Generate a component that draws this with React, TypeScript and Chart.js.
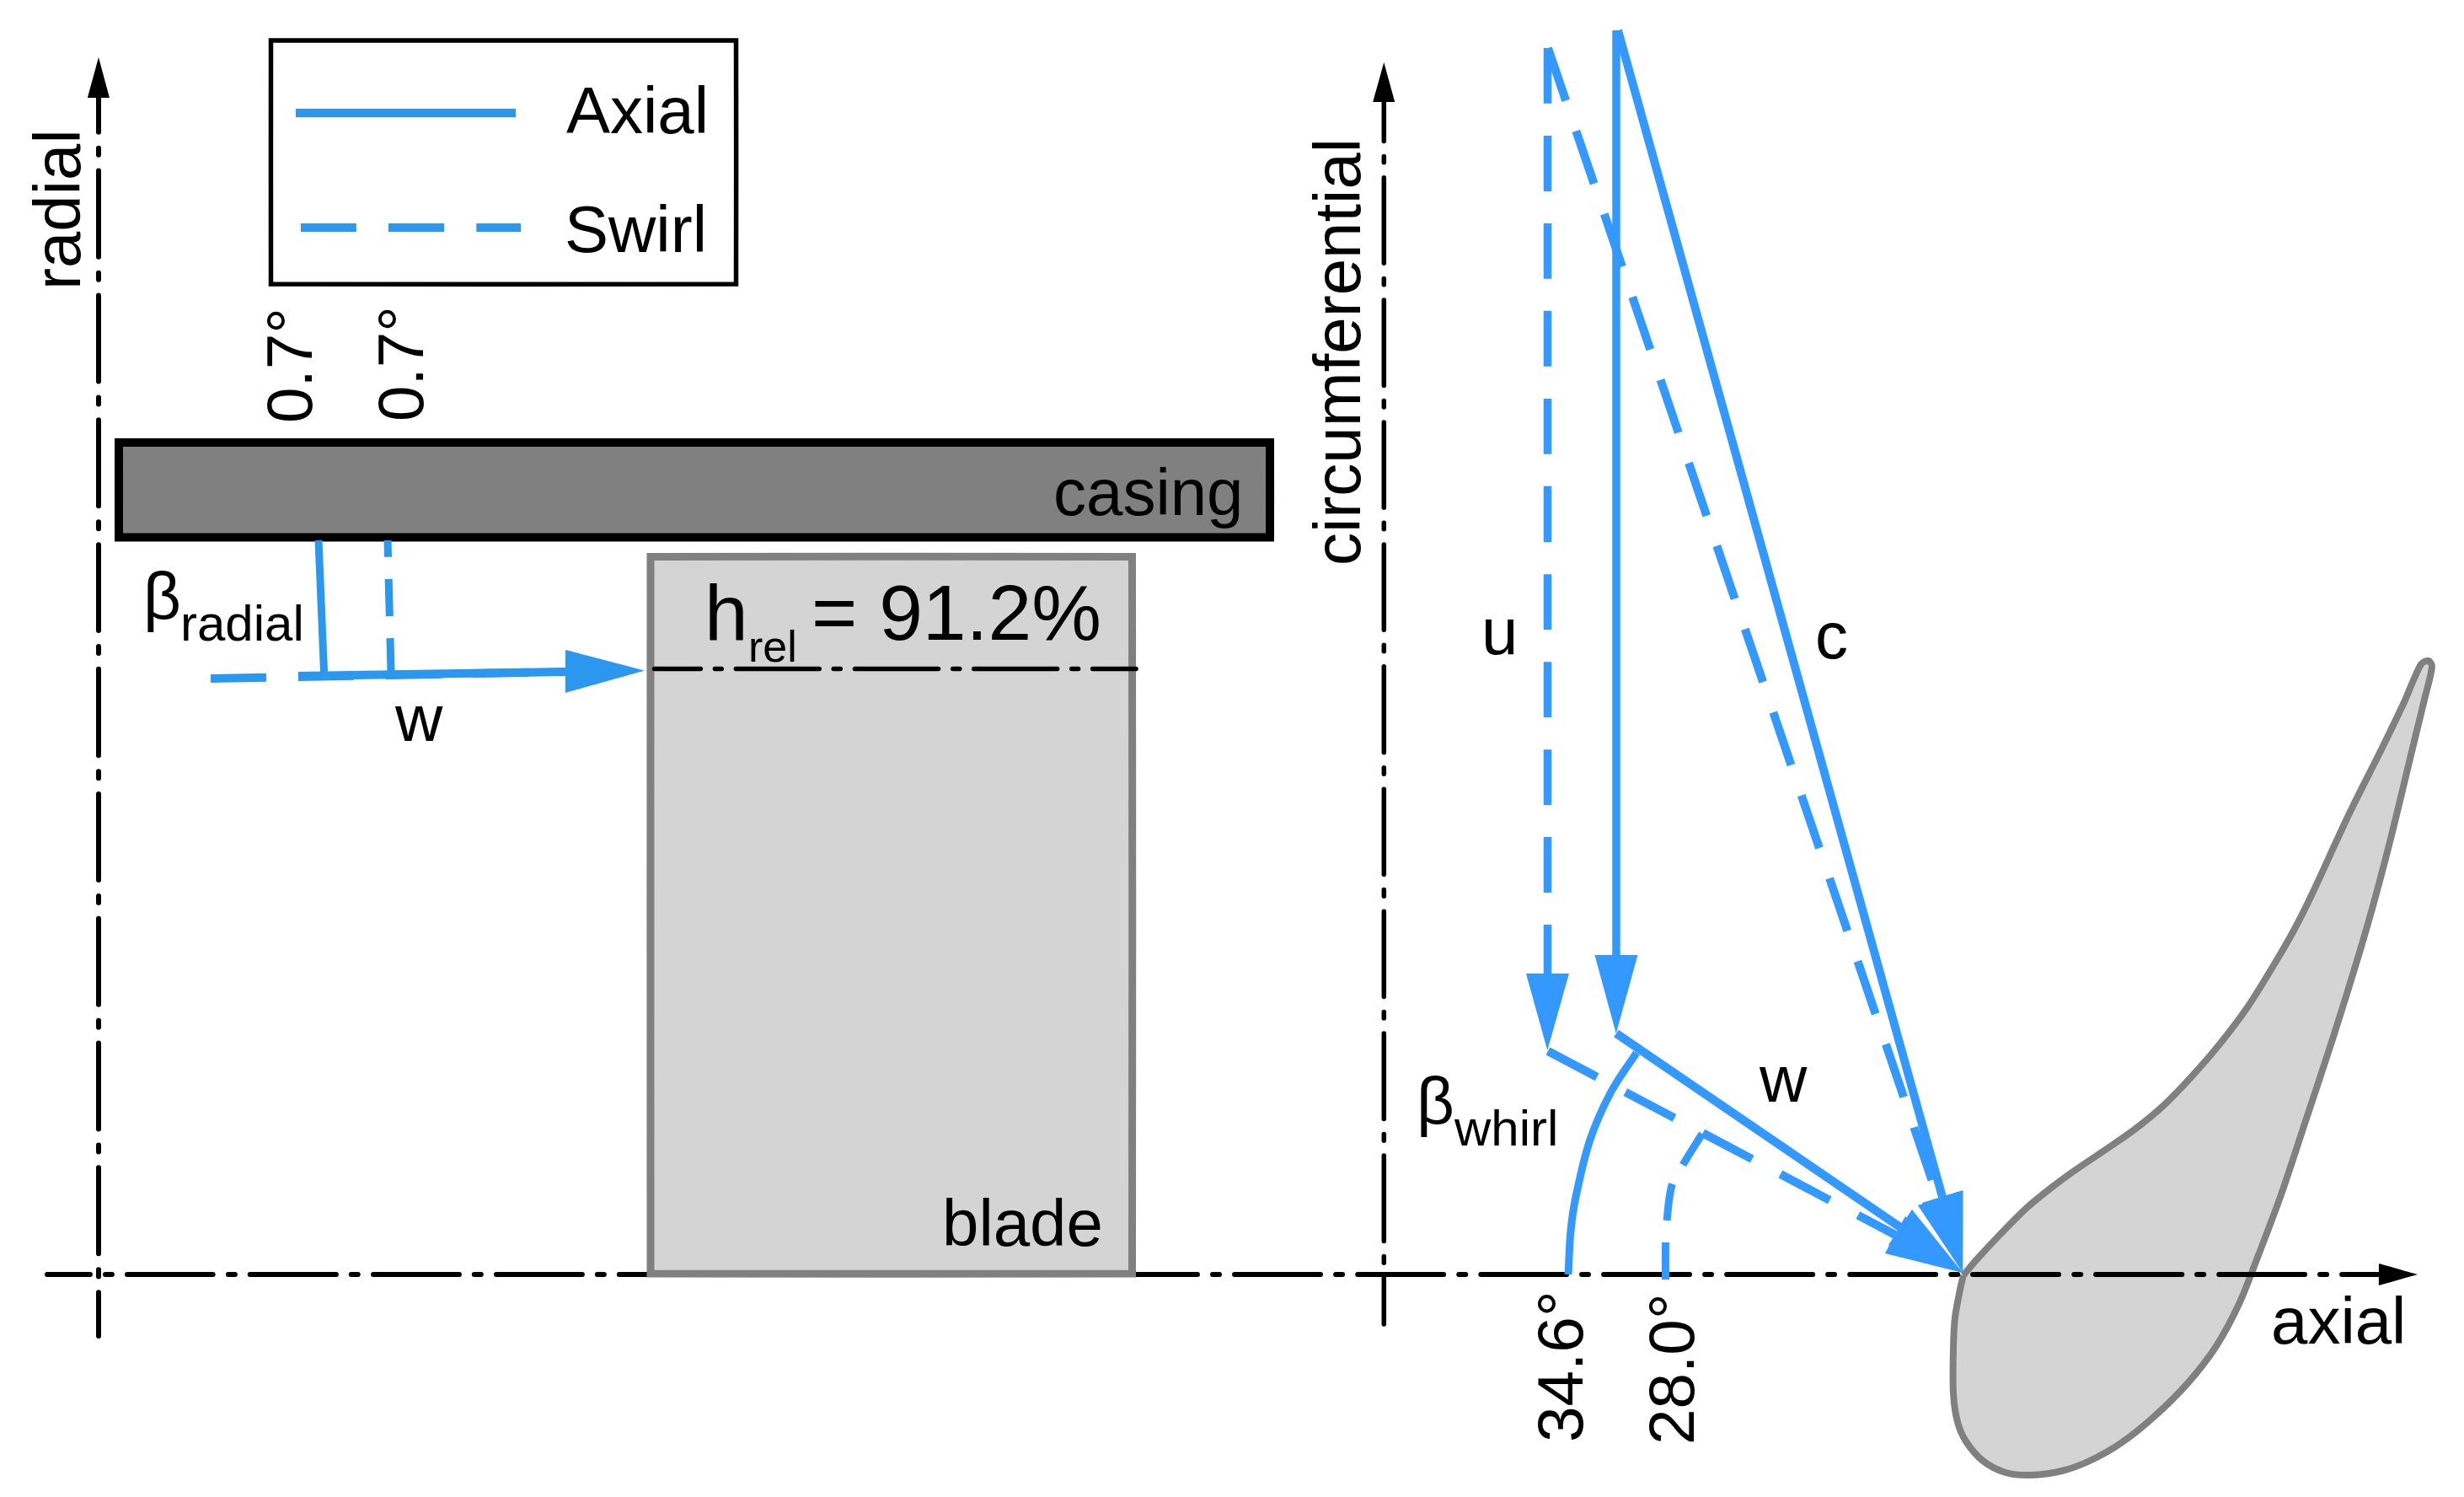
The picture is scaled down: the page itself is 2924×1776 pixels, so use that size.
import { useEffect, useRef } from "react";
import { Chart, registerables } from "chart.js";

Chart.register(...registerables);

const WIDTH = 2924;
const HEIGHT = 1776;

type Pt = [number, number];

// values are in picture units, x to the right and y downwards
const radialAxis: Pt[] = [[117, 116], [117, 1585]];
const radialHead: Pt[] = [[117, 68], [130, 116], [104, 116], [117, 68]];
const circAxis: Pt[] = [[1642.3, 121], [1642.3, 1571]];
const circHead: Pt[] = [[1642.3, 74], [1655.3, 121], [1629.3, 121], [1642.3, 74]];
const axialAxis: Pt[] = [[56, 1512], [2823, 1512]];
const axialHead: Pt[] = [[2869, 1512], [2823, 1499], [2823, 1525], [2869, 1512]];
const spanLine: Pt[] = [[776.5, 793.5], [1348, 793.5]];

const legendBox: Pt[] = [[321.5, 48], [873.5, 48], [873.5, 337], [321.5, 337], [321.5, 48]];
const legendAxial: Pt[] = [[351, 134], [612, 134]];
const legendSwirl: Pt[] = [[357, 270], [618, 270]];

const casing: Pt[] = [[141, 525], [1507, 525], [1507, 637.5], [141, 637.5], [141, 525]];
const blade: Pt[] = [[772, 660.5], [1343.5, 660.5], [1343.5, 1511], [772, 1511], [772, 660.5]];

const radialAngleAxial: Pt[] = [[378, 641], [384.5, 797]];
const radialAngleSwirl: Pt[] = [[460, 641], [464, 797]];
const inflowAxial: Pt[] = [[354, 802], [671, 797]];
const inflowSwirl: Pt[] = [[250, 805], [671, 797]];
const inflowHead: Pt[] = [[765, 795.5], [671, 771], [671, 822], [765, 795.5]];

const uAxial: Pt[] = [[1918, 36], [1918, 1133]];
const uAxialHead: Pt[] = [[1918, 1226], [1943.5, 1133], [1892.5, 1133], [1918, 1226]];
const uSwirl: Pt[] = [[1836.5, 57], [1836.5, 1155]];
const uSwirlHead: Pt[] = [[1836.5, 1246], [1862, 1155], [1811, 1155], [1836.5, 1246]];
const cAxial: Pt[] = [[1920, 36], [2305, 1420]];
const cAxialHead: Pt[] = [[2329.5, 1510], [2329.5, 1412], [2281, 1427], [2329.5, 1510]];
const cSwirl: Pt[] = [[1837, 57], [2300, 1422]];
const cSwirlHead: Pt[] = [[2329.5, 1510], [2324, 1414], [2276, 1430], [2329.5, 1510]];
const wAxial: Pt[] = [[1918, 1226], [2255, 1456]];
const wAxialHead: Pt[] = [[2329.5, 1510], [2269, 1435], [2241, 1477], [2329.5, 1510]];
const wSwirl: Pt[] = [[1837, 1247], [2249, 1465]];
const wSwirlHead: Pt[] = [[2329.5, 1510], [2261, 1443], [2237, 1487], [2329.5, 1510]];

const whirlArcAxial: Pt[] = [[1861, 1512], [1864, 1460], [1870, 1420], [1887, 1352], [1912, 1295], [1942, 1249]];
const whirlArcSwirl: Pt[] = [[1976.5, 1518], [1976.5, 1475], [1978, 1449], [1984, 1406], [1997, 1382], [2020, 1345]];

const airfoil: Pt[] = [
  [2330, 1513], [2345, 1495], [2373, 1465], [2405, 1433], [2433, 1410], [2460, 1390], [2500, 1363],
  [2533, 1340], [2567, 1312], [2600, 1278], [2633, 1240], [2667, 1195], [2700, 1142], [2723, 1102],
  [2744, 1060], [2787, 967], [2827, 887], [2853, 833], [2873, 788], [2882, 784], [2886, 791],
  [2877, 830], [2860, 900], [2839, 987], [2820, 1060], [2800, 1130], [2768, 1233], [2735, 1333],
  [2706, 1420], [2677, 1497], [2657, 1547], [2630, 1597], [2597, 1640], [2557, 1680],
  [2517, 1712], [2480, 1733], [2447, 1745], [2410, 1750], [2380, 1747], [2353, 1733], [2333, 1710],
  [2323, 1687], [2318, 1653], [2318, 1600], [2320, 1563], [2327, 1525], [2330, 1513],
];

const BLUE_LEFT = "#2b97ee";
const BLUE_RIGHT = "#3399ff";
const GREY = "#808080";
const LIGHT_GREY = "#d4d4d4";
const SANS = '"Liberation Sans", Arial, sans-serif';

const toPoints = (pts: Pt[]) => pts.map(([x, y]) => ({ x, y }));

function stroke(pts: Pt[], color: string, width: number, extra: object = {}) {
  return {
    data: toPoints(pts),
    showLine: true,
    fill: false,
    borderColor: color,
    borderWidth: width,
    tension: 0.001,
    pointRadius: 0,
    ...extra,
  };
}

function solidShape(pts: Pt[], color: string) {
  return {
    data: toPoints(pts),
    showLine: true,
    fill: "shape",
    backgroundColor: color,
    borderWidth: 0,
    tension: 0.001,
    pointRadius: 0,
  };
}

const dashDot = (dash: number[], offset: number) => ({
  borderDash: dash,
  borderDashOffset: offset,
  borderCapStyle: "round",
});

const longDash = { borderDash: [66, 38] };

// first entry is painted first
const layers = [
  {
    ...solidShape(airfoil, LIGHT_GREY),
    borderColor: GREY,
    borderWidth: 8,
    borderJoinStyle: "round",
    tension: 0.3,
  },
  stroke(radialAxis, "#000", 6, dashDot([102, 19, 8, 18.8], 61)),
  solidShape(radialHead, "#000"),
  stroke(circAxis, "#000", 5.5, dashDot([101.5, 18, 7.5, 18], 55)),
  solidShape(circHead, "#000"),
  stroke(axialAxis, "#000", 6, dashDot([102, 18, 8, 18], 51)),
  solidShape(axialHead, "#000"),

  { ...solidShape(casing, GREY), borderColor: "#000", borderWidth: 10, borderCapStyle: "square" },
  { ...solidShape(blade, LIGHT_GREY), borderColor: GREY, borderWidth: 9, borderCapStyle: "square" },
  stroke(spanLine, "#000", 5.5, dashDot([99, 17, 8, 17], 44)),

  stroke(legendBox, "#000", 5.5, { borderCapStyle: "square" }),
  stroke(legendAxial, BLUE_LEFT, 10),
  stroke(legendSwirl, BLUE_LEFT, 10, longDash),

  stroke(radialAngleAxial, BLUE_LEFT, 9),
  stroke(radialAngleSwirl, BLUE_LEFT, 9, { borderDash: [44, 26], borderDashOffset: 24 }),
  stroke(inflowSwirl, BLUE_LEFT, 10, longDash),
  stroke(inflowAxial, BLUE_LEFT, 10),
  solidShape(inflowHead, BLUE_LEFT),

  stroke(uSwirl, BLUE_RIGHT, 9.5, longDash),
  solidShape(uSwirlHead, BLUE_RIGHT),
  stroke(uAxial, BLUE_RIGHT, 9.5),
  solidShape(uAxialHead, BLUE_RIGHT),
  stroke(cSwirl, BLUE_RIGHT, 10, longDash),
  stroke(cAxial, BLUE_RIGHT, 10),
  solidShape(cSwirlHead, BLUE_RIGHT),
  solidShape(cAxialHead, BLUE_RIGHT),
  stroke(wSwirl, BLUE_RIGHT, 10, longDash),
  stroke(wAxial, BLUE_RIGHT, 10),
  solidShape(wSwirlHead, BLUE_RIGHT),
  solidShape(wAxialHead, BLUE_RIGHT),
  stroke(whirlArcAxial, BLUE_RIGHT, 9, { tension: 0.35 }),
  stroke(whirlArcSwirl, BLUE_RIGHT, 9, { tension: 0.35, borderDash: [44, 26] }),
];

// text, x, y (baseline start), font size, rotated
const textMarks: [string, number, number, number, boolean][] = [
  ["Axial", 672, 157.5, 78, false],
  ["Swirl", 670, 299, 78, false],
  ["radial", 95, 344, 78, true],
  ["circumferential", 1614, 671, 78, true],
  ["0.7°", 370, 502, 76.5, true],
  ["0.7°", 502, 500, 76.5, true],
  ["casing", 1250, 611, 78, false],
  ["blade", 1118, 1478, 78, false],
  ["h", 836, 759, 93, false],
  ["rel", 888, 785, 52, false],
  ["= 91.2%", 963, 759, 93, false],
  ["β", 170, 733.5, 78, false],
  ["radial", 214, 760, 60, false],
  ["w", 469, 879, 78, false],
  ["u", 1758, 775.5, 78, false],
  ["c", 2154, 780.5, 78, false],
  ["w", 2088, 1307, 78, false],
  ["β", 1681, 1333, 78, false],
  ["whirl", 1726, 1358.5, 60, false],
  ["34.6°", 1878, 1711, 76.5, true],
  ["28.0°", 2010, 1714, 76.5, true],
  ["axial", 2695, 1594, 78, false],
];

const textPlugin = {
  id: "diagramText",
  afterDatasetsDraw(chart: Chart) {
    const { ctx, scales } = chart;
    ctx.save();
    ctx.fillStyle = "#000";
    ctx.textAlign = "left";
    ctx.textBaseline = "alphabetic";
    for (const [text, x, y, size, rotated] of textMarks) {
      ctx.save();
      ctx.translate(scales.x.getPixelForValue(x), scales.y.getPixelForValue(y));
      if (rotated) ctx.rotate(-Math.PI / 2);
      ctx.font = `${size}px ${SANS}`;
      ctx.fillText(text, 0, 0);
      ctx.restore();
    }
    ctx.restore();
  },
};

export default function App() {
  const chartRef = useRef<HTMLCanvasElement>(null);

  useEffect(() => {
    if (!chartRef.current) return;

    const chart = new Chart(chartRef.current, {
      type: "scatter",
      // chart.js paints the first dataset on top, so hand them over back to front
      data: { datasets: [...layers].reverse() as any },
      options: {
        animation: false,
        responsive: false,
        devicePixelRatio: 1,
        layout: { padding: 0 },
        plugins: { legend: { display: false }, tooltip: { enabled: false } },
        scales: {
          x: { type: "linear", display: false, min: 0, max: WIDTH },
          y: { type: "linear", display: false, min: 0, max: HEIGHT, reverse: true },
        },
      },
      plugins: [textPlugin],
    });

    return () => chart.destroy();
  }, []);

  return (
    <div style={{ position: "fixed", left: 0, top: 0, width: WIDTH, height: HEIGHT, background: "#fff" }}>
      <canvas ref={chartRef} width={WIDTH} height={HEIGHT} style={{ display: "block" }}></canvas>
    </div>
  );
}
